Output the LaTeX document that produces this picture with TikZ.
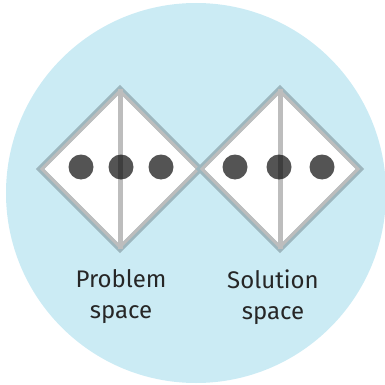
\documentclass[tikz,border=0pt]{standalone}
\usepackage{fontspec}
\setmainfont{Fira Sans}
\usetikzlibrary{shapes.geometric,positioning}
\definecolor{skyfill}{HTML}{CBEBF4}
\definecolor{rimblue}{HTML}{9DB6BE}
\definecolor{rimgray}{HTML}{BDBDBD}

\begin{document}
\begin{tikzpicture}[x=1pt, y=-1pt,
  every node/.style={font=\fontsize{24}{31}\selectfont},
  backdrop/.style={circle, fill=skyfill, minimum size=380pt, inner sep=0pt},
  space/.style={diamond, draw=rimblue, line width=6pt, fill=white,
                minimum width=160pt, minimum height=160pt, inner sep=0pt,
                outer sep=0pt},
  rim/.style={diamond, draw=rimgray, line width=3pt,
              minimum width=155.8pt, minimum height=155.8pt, inner sep=0pt,
              outer sep=0pt},
  split/.style={draw=rimgray, line width=5pt},
  dot/.style={circle, fill=black, opacity=0.67, minimum size=25pt,
              inner sep=0pt},
  caption/.style={align=center, text=black!85},
]
\useasboundingbox (0,0) rectangle (385,385);

%% Background disc
\node[backdrop] (bg) at (196,193) {};

%% Problem space
\node[space] (P) at (120,169) {};
\node[rim] (Pr) at (P.center) {};
\draw[split] (P.north) -- (P.south);
\node[dot] (P1) at (81,167) {};
\node[dot] (P2) at (121,167) {};
\node[dot] (P3) at (161,167) {};

%% Solution space
\node[space] (S) at (280,169) {};
\node[rim] (Sr) at (S.center) {};
\draw[split] (S.north) -- (S.south);
\node[dot] (S1) at (235,167) {};
\node[dot] (S2) at (279,167) {};
\node[dot] (S3) at (322,167) {};

%% Labels
\node[caption] (Plab) at (121,297) {Problem\\space};
\node[caption] (Slab) at (273,297) {Solution\\space};

\end{tikzpicture}
\end{document}
